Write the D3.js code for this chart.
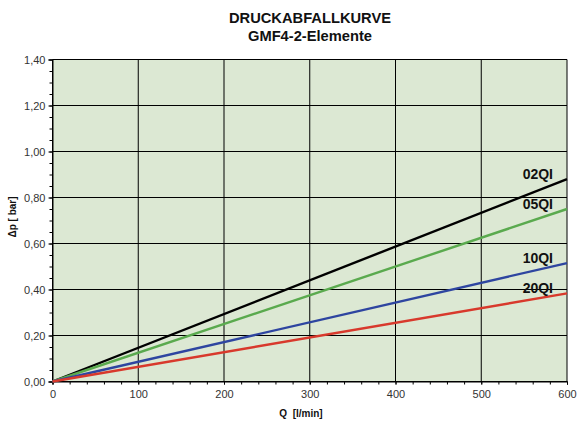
<!DOCTYPE html>
<html><head><meta charset="utf-8">
<script src="https://cdn.jsdelivr.net/npm/d3@7"></script>
<style>body{margin:0;background:#fff}svg{display:block}text{font-family:"Liberation Sans",Arial,sans-serif}</style>
</head><body><svg id="c" width="578" height="424"></svg>
<script>
const titleLines = ["DRUCKABFALLKURVE", "GMF4-2-Elemente"];
const xLabel = "Q  [l/min]";
const yLabel = "\u0394p [ bar]";
const seriesNames = ["02QI", "05QI", "10QI", "20QI"];
const seriesColors = ["#000000", "#5aaa4e", "#2e45a0", "#d8392c"];
const qValues = [0, 600];
const dp02 = [0, 0.88];
const dp05 = [0, 0.75];
const dp10 = [0, 0.515];
const dp20 = [0, 0.383];
const seriesValues = [dp02, dp05, dp10, dp20];
const xTicks = [0, 100, 200, 300, 400, 500, 600];
const yTicks = [0, 0.2, 0.4, 0.6, 0.8, 1.0, 1.2, 1.4];

const svg = d3.select("#c");
const L = 52.5, R = 567, T = 59.5, B = 381.5;
const x = d3.scaleLinear().domain([0, 600]).range([L, R]);
const y = d3.scaleLinear().domain([0, 1.4]).range([B, T]);
const fmt = v => d3.format(".2f")(v).replace(".", ",");

svg.append("rect").attr("x", L).attr("y", T).attr("width", R - L).attr("height", B - T).attr("fill", "#dce8d3");

// grid
svg.append("g").selectAll("line").data(xTicks).join("line")
  .attr("x1", d => x(d)).attr("x2", d => x(d)).attr("y1", T).attr("y2", B)
  .attr("stroke", "#000").attr("stroke-width", 1);
svg.append("g").selectAll("line").data(yTicks).join("line")
  .attr("x1", L).attr("x2", R).attr("y1", d => y(d)).attr("y2", d => y(d))
  .attr("stroke", "#000").attr("stroke-width", 1);

// axes
const xAxis = d3.axisBottom(x).tickValues(xTicks).tickSize(3).tickPadding(6).tickFormat(d3.format("d"));
svg.append("g").attr("transform", `translate(0,${B})`).call(xAxis);
const xMinor = d3.axisBottom(x).tickValues(d3.range(0, 601, 20)).tickSize(3).tickFormat("");
svg.append("g").attr("transform", `translate(0,${B})`).call(xMinor).select(".domain").remove();
const yAxis = d3.axisLeft(y).tickValues(yTicks).tickSize(4).tickPadding(3).tickFormat(fmt);
svg.append("g").attr("transform", `translate(${L},0)`).call(yAxis);
const yMinor = d3.axisLeft(y).tickValues(d3.range(0, 1.401, 0.05)).tickSize(3).tickFormat("");
svg.append("g").attr("transform", `translate(${L},0)`).call(yMinor).select(".domain").remove();
svg.selectAll(".domain").attr("stroke", "#000");
svg.selectAll(".tick line").attr("stroke", "#000");
svg.selectAll(".tick text").attr("font-size", 11).attr("fill", "#333").attr("font-family", "Liberation Sans, Arial, sans-serif");

// lines
const line = d3.line().x((d, i) => x(qValues[i])).y(d => y(d));
seriesValues.forEach((vals, i) => {
  svg.append("path").attr("d", line(vals)).attr("fill", "none")
    .attr("stroke", seriesColors[i]).attr("stroke-width", 2.4);
});

// series labels
seriesNames.forEach((n, i) => {
  svg.append("text").attr("x", 553).attr("y", y(seriesValues[i][1]))
    .attr("text-anchor", "end").attr("font-size", 14).attr("font-weight", "bold").attr("fill", "#111")
    .text(n);
});

// titles
titleLines.forEach((t, i) => {
  svg.append("text").attr("x", 310).attr("y", 22.5 + i * 18.5).attr("text-anchor", "middle")
    .attr("font-size", 14.7).attr("font-weight", "bold").attr("fill", "#111").text(t);
});
svg.append("text").attr("x", 301).attr("y", 417).attr("text-anchor", "middle")
  .attr("font-size", 10).attr("font-weight", "bold").attr("fill", "#111").attr("xml:space", "preserve").text(xLabel);
svg.append("text").attr("transform", "translate(16,217) rotate(-90)").attr("text-anchor", "middle")
  .attr("font-size", 10).attr("font-weight", "bold").attr("fill", "#111").attr("xml:space", "preserve").text(yLabel);
</script></body></html>
